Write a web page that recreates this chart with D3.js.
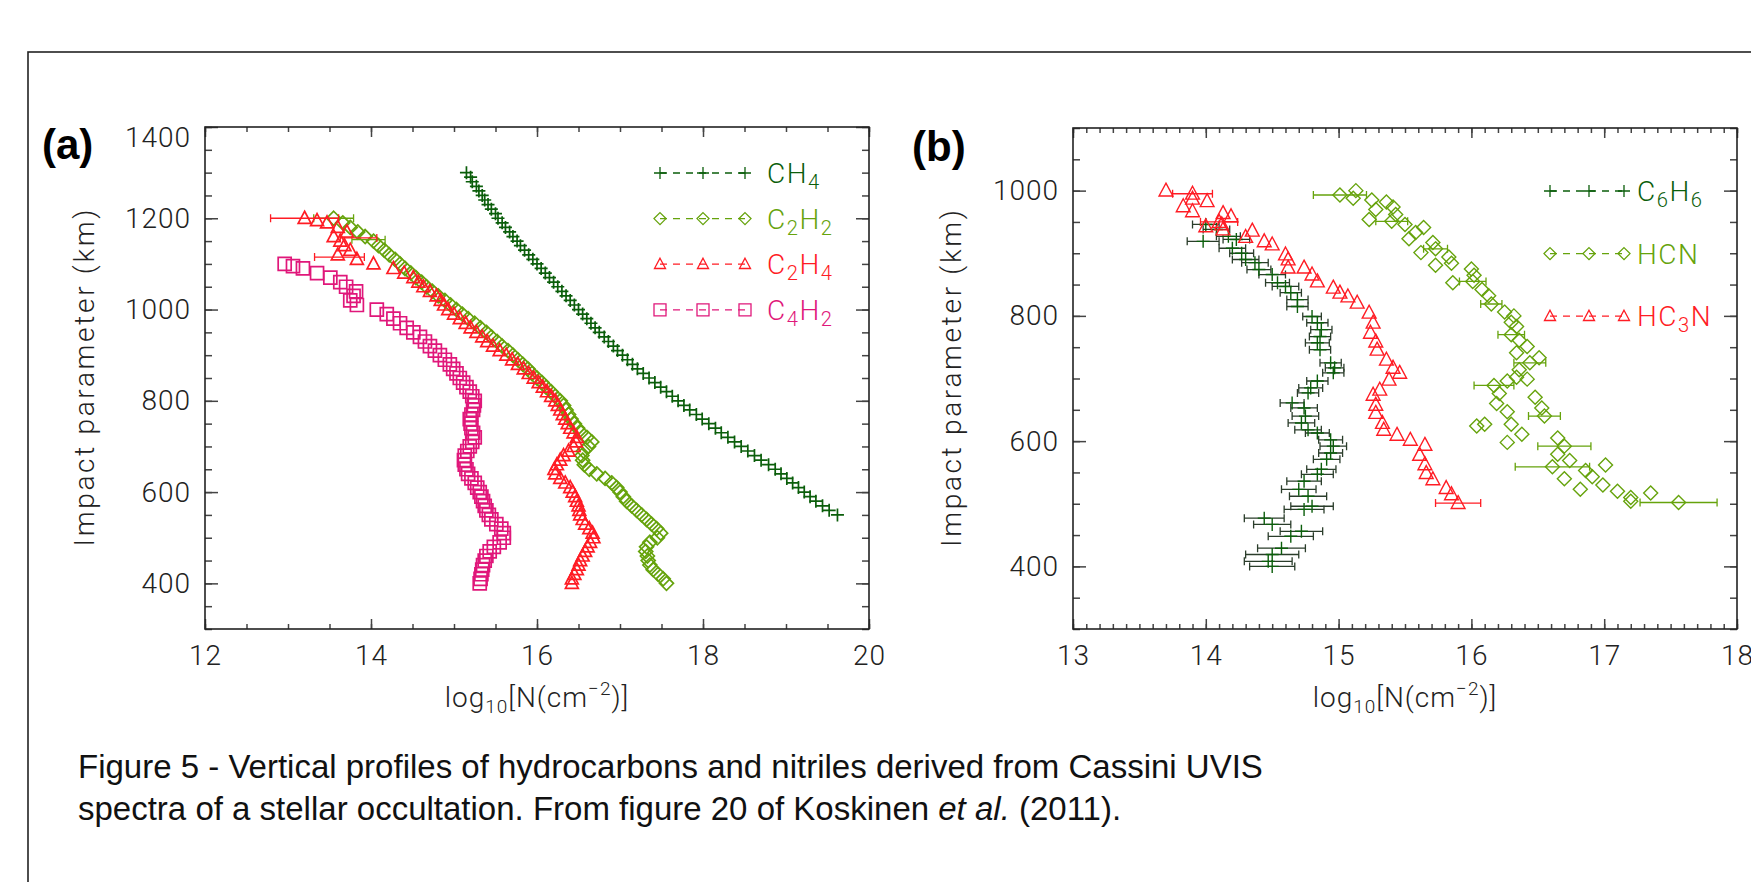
<!DOCTYPE html>
<html>
<head>
<meta charset="utf-8">
<script src="https://cdn.jsdelivr.net/npm/d3@7"></script>
<style>
  body { margin: 0; background: #fff; }
  svg { display: block; }
</style>
</head>
<body>
<svg id="fig" width="1751" height="882"></svg>
<script>
// ---- panel (a): [impact parameter (km), log10 N] ----
let ch4 = [[1300,15.15],[1290,15.2],[1280,15.22],[1270,15.27],[1260,15.3],[1250,15.34],[1240,15.37],[1230,15.41],
  [1220,15.45],[1210,15.5],[1200,15.53],[1190,15.58],[1180,15.62],[1170,15.67],[1160,15.71],[1150,15.76],[1140,15.8],
  [1130,15.85],[1120,15.9],[1110,15.95],[1100,16.0],[1090,16.05],[1080,16.1],[1070,16.15],[1060,16.2],[1050,16.25],
  [1040,16.3],[1030,16.35],[1020,16.4],[1010,16.45],[1000,16.5],[990,16.55],[980,16.6],[970,16.65],[960,16.7],
  [950,16.75],[940,16.81],[930,16.86],[920,16.92],[910,16.97],[900,17.03],[890,17.09],[880,17.15],[870,17.21],
  [860,17.28],[850,17.35],[840,17.42],[830,17.49],[820,17.56],[810,17.63],[800,17.7],[790,17.77],[780,17.84],
  [770,17.92],[760,17.99],[750,18.07],[740,18.15],[730,18.22],[720,18.3],[710,18.38],[700,18.46],[690,18.54],
  [680,18.62],[670,18.7],[660,18.79],[650,18.87],[640,18.94],[630,19.01],[620,19.08],[610,19.15],[600,19.22],
  [590,19.29],[580,19.36],[570,19.44],[560,19.52],[550,19.62]];

let c2h2 = [[1200,13.55],[1190,13.66],[1180,13.75],[1170,13.84],[1160,13.93],[1150,14.03],[1140,14.09],[1130,14.16],
  [1120,14.22],[1110,14.29],[1100,14.35],[1090,14.41],[1080,14.48],[1070,14.54],[1060,14.61],[1050,14.67],[1040,14.74],
  [1030,14.81],[1020,14.89],[1010,14.96],[1000,15.03],[990,15.1],[980,15.17],[970,15.25],[960,15.32],[950,15.39],
  [940,15.45],[930,15.52],[920,15.58],[910,15.65],[900,15.71],[890,15.77],[880,15.83],[870,15.89],[860,15.94],
  [850,16.0],[840,16.06],[830,16.11],[820,16.17],[810,16.22],[800,16.28],[790,16.32],[780,16.35],[770,16.38],
  [760,16.41],[750,16.45],[740,16.49],[730,16.53],[720,16.6],[710,16.66],[700,16.62],[690,16.56],[680,16.54],
  [670,16.55],[660,16.57],[650,16.63],[640,16.72],[630,16.82],[620,16.9],[610,16.96],[600,17.0],[590,17.04],
  [580,17.08],[570,17.14],[560,17.2],[550,17.26],[540,17.32],[530,17.38],[520,17.44],[510,17.49],[500,17.45],
  [490,17.36],[480,17.32],[470,17.31],[460,17.33],[450,17.34],[440,17.36],[430,17.4],[420,17.46],[410,17.52],[400,17.56]];

let c2h4 = [[1200,13.2],[1195,13.35],[1190,13.47],[1180,13.6],[1170,13.71],[1160,13.55],[1150,13.63],[1140,13.68],
  [1130,13.75],[1120,13.6],[1110,13.83],[1100,14.03],[1090,14.27],[1080,14.4],[1070,14.51],[1060,14.57],[1050,14.63],
  [1040,14.71],[1030,14.79],[1020,14.84],[1010,14.88],[1000,14.93],[990,15.0],[980,15.07],[970,15.14],[960,15.2],
  [950,15.27],[940,15.34],[930,15.4],[920,15.47],[910,15.55],[900,15.63],[890,15.7],[880,15.77],[870,15.84],
  [860,15.9],[850,15.96],[840,16.02],[830,16.07],[820,16.12],[810,16.17],[800,16.22],[790,16.25],[780,16.28],
  [770,16.31],[760,16.34],[750,16.37],[740,16.4],[730,16.44],[720,16.48],[710,16.47],[700,16.44],[690,16.38],
  [680,16.32],[670,16.28],[660,16.24],[650,16.21],[640,16.22],[630,16.28],[620,16.34],[610,16.4],[600,16.43],
  [590,16.46],[580,16.48],[570,16.5],[560,16.51],[550,16.52],[540,16.55],[530,16.58],[520,16.63],[510,16.67],
  [500,16.68],[490,16.64],[480,16.61],[470,16.58],[460,16.55],[450,16.52],[440,16.5],[430,16.48],[420,16.45],
  [410,16.42],[400,16.42]];

let c4h2 = [[1100,12.96],[1095,13.06],[1090,13.18],[1080,13.35],[1070,13.51],[1060,13.63],[1050,13.7],[1040,13.82],
  [1030,13.79],[1020,13.75],[1010,13.83],[1000,14.07],[990,14.19],[980,14.27],[970,14.35],[960,14.43],[950,14.51],
  [940,14.59],[930,14.65],[920,14.71],[910,14.77],[900,14.83],[890,14.89],[880,14.95],[870,14.99],[860,15.03],
  [850,15.07],[840,15.11],[830,15.15],[820,15.19],[810,15.22],[800,15.25],[790,15.24],[780,15.23],[770,15.21],
  [760,15.19],[750,15.2],[740,15.21],[730,15.23],[720,15.25],[710,15.22],[700,15.19],[690,15.16],[680,15.13],
  [670,15.12],[660,15.13],[650,15.15],[640,15.17],[630,15.21],[620,15.25],[610,15.28],[600,15.31],[590,15.33],
  [580,15.35],[570,15.37],[560,15.39],[550,15.42],[540,15.45],[530,15.51],[520,15.57],[510,15.6],[500,15.6],
  [490,15.55],[480,15.48],[470,15.43],[460,15.39],[450,15.37],[440,15.35],[430,15.34],[420,15.33],[410,15.32],[400,15.31]];

// error bars in (a): [km, log10 N, half width]
let c2h2Err = [[1200,13.55,0.24],[1153,13.97,0.2]];
let c2h4Err = [[1200,13.2,0.41],[1157,13.85,0.22],[1115,13.62,0.3]];

// ---- panel (b): [km, log10 N, half width of error bar (0 = none)] ----
let c6h6 = [[946,14.0,0.1],[938,14.08,0.1],[927,14.17,0.09],[922,14.23,0.1],[919,13.98,0.12],[908,14.2,0.1],
  [900,14.27,0.09],[890,14.3,0.1],[885,14.37,0.1],[874,14.4,0.09],[866,14.5,0.1],[853,14.54,0.09],[847,14.6,0.1],
  [837,14.64,0.08],[826,14.69,0.08],[815,14.69,0.08],[799,14.8,0.07],[789,14.84,0.08],[778,14.87,0.08],
  [767,14.86,0.08],[757,14.84,0.09],[746,14.86,0.08],[725,14.94,0.08],[717,14.97,0.07],[709,14.96,0.08],
  [696,14.84,0.08],[685,14.79,0.09],[677,14.77,0.08],[661,14.65,0.09],[653,14.74,0.1],[640,14.75,0.1],
  [629,14.72,0.1],[618,14.77,0.1],[613,14.84,0.09],[602,14.94,0.09],[592,14.96,0.1],[581,14.94,0.09],
  [571,14.91,0.1],[555,14.87,0.11],[547,14.84,0.12],[536,14.74,0.13],[523,14.7,0.13],[512,14.77,0.14],
  [496,14.8,0.16],[491,14.74,0.15],[477,14.44,0.15],[467,14.5,0.14],[456,14.72,0.16],[448,14.64,0.17],
  [429,14.57,0.18],[419,14.5,0.2],[408,14.47,0.18],[400,14.5,0.17]];

let hcn = [[993,15.01,0.2],[1000,15.13,0],[988,15.11,0],[985,15.25,0],[982,15.36,0],[970,15.28,0],[974,15.41,0],
  [962,15.43,0],[954,15.23,0],[951,15.4,0.12],[946,15.5,0],[941,15.64,0],[933,15.58,0],[923,15.53,0],[917,15.71,0],
  [907,15.73,0.09],[901,15.62,0],[894,15.83,0],[881,15.73,0],[884,15.85,0],[853,15.86,0],[875,16.0,0],[865,16.02,0],
  [855,16.01,0.1],[842,16.08,0],[832,16.13,0],[819,16.15,0.08],[806,16.25,0],[800,16.32,0],[790,16.3,0],
  [783,16.34,0],[770,16.3,0.1],[761,16.36,0],[751,16.42,0],[741,16.34,0],[733,16.51,0],[725,16.44,0.12],
  [714,16.36,0],[702,16.34,0],[689,16.17,0.15],[676,16.21,0],[696,16.27,0],[699,16.42,0],[670,16.48,0],
  [660,16.19,0],[653,16.53,0],[640,16.55,0.12],[647,16.27,0],[624,16.04,0],[627,16.1,0],[627,16.3,0],
  [611,16.38,0],[598,16.27,0],[605,16.65,0],[592,16.7,0.2],[579,16.65,0],[569,16.74,0],[562,17.01,0],
  [559,16.61,0.28],[540,16.7,0],[553,16.86,0],[543,16.91,0],[523,16.82,0],[530,16.99,0],[520,17.1,0],
  [510,17.2,0],[517,17.35,0],[504,17.2,0],[502,17.56,0.29]];

let hc3n = [[1000,13.7,0],[995,13.9,0.15],[987,13.9,0],[983,14.01,0],[975,13.83,0],[967,13.9,0],[964,14.13,0],
  [959,14.19,0],[950,14.1,0.14],[943,14.0,0],[946,14.12,0],[938,14.13,0],[936,14.35,0],[926,14.3,0],[919,14.44,0],
  [914,14.5,0],[898,14.6,0],[890,14.62,0],[877,14.62,0],[877,14.74,0],[866,14.8,0],[855,14.84,0],[845,14.96,0],
  [837,15.01,0],[831,15.07,0],[821,15.14,0],[805,15.23,0],[789,15.26,0],[773,15.24,0],[759,15.28,0],[746,15.29,0],
  [730,15.36,0],[717,15.41,0],[709,15.46,0],[698,15.38,0],[682,15.31,0],[674,15.26,0],[658,15.28,0],[645,15.28,0],
  [629,15.33,0],[618,15.34,0],[610,15.44,0],[602,15.54,0],[594,15.65,0],[578,15.61,0],[563,15.65,0],[549,15.66,0],
  [539,15.71,0],[525,15.81,0],[515,15.85,0],[501,15.9,0.17]];

// ---- ticks ----
let xTicksA = [12, 14, 16, 18, 20];
let yTicksA = [400, 600, 800, 1000, 1200, 1400];
let xTicksB = [13, 14, 15, 16, 17, 18];
let yTicksB = [400, 600, 800, 1000];

let dkGreen = '#0b5e0b';
let ltGreen = '#66a30c';
let red = '#ff1c24';
let pink = '#e0177a';

let tickFont = 'Roboto, "Liberation Sans", sans-serif';

const svg = d3.select('#fig');

// outer frame of the slide
svg.append('rect')
    .attr('x', 28).attr('y', 52)
    .attr('width', 1800).attr('height', 900)
    .attr('fill', 'none').attr('stroke', '#222').attr('stroke-width', 1.6);

const symbols = {
    plus: s => `M${-s},0H${s}M0,${-s}V${s}`,
    diamond: s => `M0,${-s}L${s},0L0,${s}L${-s},0Z`,
    triangle: s => `M0,${-s}L${s * 0.92},${s * 0.72}L${-s * 0.92},${s * 0.72}Z`,
    square: s => `M${-s},${-s}H${s}V${s}H${-s}Z`
};

// "C_2H_4" -> C, subscript 2, H, subscript 4
function chemLabel(sel, str, size) {
    let shift = 0;
    str.split(/(_\d)/).filter(d => d).forEach(part => {
        let sub = part[0] === '_';
        let target = sub ? 6 : 0;
        sel.append('tspan')
            .attr('dy', target - shift)
            .attr('font-size', sub ? size * 0.72 : size)
            .text(sub ? part.slice(1) : part);
        shift = target;
    });
}

function drawPanel(p) {
    let x = d3.scaleLinear().domain(p.xDomain).range([p.left, p.right]);
    let y = d3.scaleLinear().domain(p.yDomain).range([p.bottom, p.top]);
    let g = svg.append('g');

    let axisDefs = [
        [d3.axisBottom(x).tickValues(p.xMinor).tickSize(-5).tickFormat(''), `translate(0,${p.bottom})`],
        [d3.axisTop(x).tickValues(p.xMinor).tickSize(-5).tickFormat(''), `translate(0,${p.top})`],
        [d3.axisTop(x).tickValues(p.xTicks).tickSize(-10).tickFormat(''), `translate(0,${p.top})`],
        [d3.axisLeft(y).tickValues(p.yMinor).tickSize(-7).tickFormat(''), `translate(${p.left},0)`],
        [d3.axisRight(y).tickValues(p.yMinor).tickSize(-7).tickFormat(''), `translate(${p.right},0)`],
        [d3.axisRight(y).tickValues(p.yTicks).tickSize(-13).tickFormat(''), `translate(${p.right},0)`],
        [d3.axisBottom(x).tickValues(p.xTicks).tickSize(-10).tickPadding(16).tickFormat(d3.format('d')), `translate(0,${p.bottom})`],
        [d3.axisLeft(y).tickValues(p.yTicks).tickSize(-13).tickPadding(14).tickFormat(d3.format('d')), `translate(${p.left},0)`]
    ];
    axisDefs.forEach(a => {
        let ag = g.append('g').attr('transform', a[1]).call(a[0]);
        ag.select('.domain').remove();
        ag.selectAll('line').attr('stroke', '#444').attr('stroke-width', 1.5);
        ag.selectAll('text')
            .attr('fill', '#222')
            .style('font-family', tickFont)
            .style('font-weight', 300)
            .style('font-size', '28px')
            .style('letter-spacing', '1px');
    });
    // IDL keeps the top label inside the frame
    g.selectAll('.tick text').filter(d => d === p.yDomain[1]).attr('dy', '0.68em');

    g.append('rect')
        .attr('x', p.left).attr('y', p.top)
        .attr('width', p.right - p.left).attr('height', p.bottom - p.top)
        .attr('fill', 'none').attr('stroke', '#222').attr('stroke-width', 1.6);

    p.series.forEach(s => {
        let sg = g.append('g')
            .attr('stroke', s.color).attr('fill', 'none').attr('stroke-width', p.markStroke);
        sg.selectAll('path.err')
            .data(s.errors.filter(d => d[2] > 0))
            .enter().append('path')
            .attr('stroke', s.errColor || s.color)
            .attr('stroke-width', 1.3)
            .attr('d', d => {
                let x0 = x(d[1] - d[2]), x1 = x(d[1] + d[2]), yy = y(d[0]);
                return `M${x0},${yy}H${x1}M${x0},${yy - 4}V${yy + 4}M${x1},${yy - 4}V${yy + 4}`;
            });
        sg.selectAll('path.pt')
            .data(s.points)
            .enter().append('path')
            .attr('transform', d => `translate(${x(d[1])},${y(d[0])})`)
            .attr('d', symbols[s.symbol](s.size));
    });

    // legend
    p.series.forEach((s, i) => {
        let ly = p.legend.y0 + i * p.legend.step;
        let lg = g.append('g').attr('stroke', s.color).attr('fill', 'none').attr('stroke-width', 1.3);
        lg.append('line')
            .attr('x1', p.legend.xs[0]).attr('x2', p.legend.xs[2])
            .attr('y1', ly).attr('y2', ly)
            .attr('stroke-dasharray', '7,6');
        p.legend.xs.forEach(lx => {
            lg.append('path')
                .attr('transform', `translate(${lx},${ly})`)
                .attr('d', symbols[s.symbol](6));
        });
        let t = g.append('text')
            .attr('x', p.legend.textX).attr('y', ly + 10)
            .attr('fill', s.color)
            .style('font-family', tickFont).style('font-weight', 300)
            .style('letter-spacing', '1.5px');
        chemLabel(t, s.label, 28);
    });

    // axis titles
    let cx = (p.left + p.right) / 2, cy = (p.top + p.bottom) / 2;
    g.append('text')
        .attr('transform', `translate(${p.yTitleX},${cy}) rotate(-90)`)
        .attr('text-anchor', 'middle')
        .attr('textLength', 337).attr('lengthAdjust', 'spacing')
        .attr('fill', '#222')
        .style('font-family', tickFont).style('font-weight', 300).style('font-size', '28px')
        .text('Impact parameter (km)');

    let xt = g.append('text')
        .attr('x', cx).attr('y', 707)
        .attr('text-anchor', 'middle')
        .attr('fill', '#222')
        .style('font-family', tickFont).style('font-weight', 300).style('font-size', '28px')
        .style('letter-spacing', '1px');
    xt.append('tspan').text('log');
    xt.append('tspan').attr('font-size', 19).attr('dy', 6).text('10');
    xt.append('tspan').attr('dy', -6).text('[N(cm');
    xt.append('tspan').attr('font-size', 19).attr('dy', -12).text('\u22122');
    xt.append('tspan').attr('dy', 12).text(')]');

    g.append('text')
        .attr('x', p.tagX).attr('y', p.tagY)
        .attr('fill', '#000')
        .style('font-family', '"Liberation Sans", Arial, sans-serif')
        .style('font-weight', 'bold').style('font-size', '42px')
        .text(p.tag);
}

drawPanel({
    left: 205, right: 869, top: 127, bottom: 629,
    xDomain: [12, 20], yDomain: [300, 1400],
    xTicks: xTicksA, yTicks: yTicksA,
    xMinor: d3.range(12, 20.01, 0.5), yMinor: d3.range(300, 1401, 50),
    yTitleX: 94, tag: '(a)', tagX: 42, tagY: 159, markStroke: 1.7,
    legend: { xs: [660, 703, 745], textX: 767, y0: 173, step: 45.6 },
    series: [
        { label: 'CH_4', points: ch4, errors: [], symbol: 'plus', size: 6.5, color: dkGreen },
        { label: 'C_2H_2', points: c2h2, errors: c2h2Err, symbol: 'diamond', size: 7, color: ltGreen },
        { label: 'C_2H_4', points: c2h4, errors: c2h4Err, symbol: 'triangle', size: 7, color: red },
        { label: 'C_4H_2', points: c4h2, errors: [], symbol: 'square', size: 6.5, color: pink }
    ]
});

drawPanel({
    left: 1073, right: 1737, top: 128, bottom: 629,
    xDomain: [13, 18], yDomain: [300, 1100],
    xTicks: xTicksB, yTicks: yTicksB,
    xMinor: d3.range(13, 18.001, 0.1), yMinor: d3.range(300, 1101, 50),
    yTitleX: 961, tag: '(b)', tagX: 912, tagY: 161, markStroke: 1.4,
    legend: { xs: [1550, 1589, 1624], textX: 1637, y0: 191, step: 62.6 },
    series: [
        { label: 'C_6H_6', points: c6h6, errors: c6h6, symbol: 'plus', size: 6.5, color: dkGreen, errColor: '#2b3d2b' },
        { label: 'HCN', points: hcn, errors: hcn, symbol: 'diamond', size: 7, color: ltGreen },
        { label: 'HC_3N', points: hc3n, errors: hc3n, symbol: 'triangle', size: 7.5, color: red }
    ]
});

// caption
let cap = svg.append('g')
    .style('font-family', '"Liberation Sans", Arial, sans-serif')
    .style('font-size', '33px')
    .attr('fill', '#111');
cap.append('text').attr('x', 78).attr('y', 778)
    .text('Figure 5 - Vertical profiles of hydrocarbons and nitriles derived from Cassini UVIS');
let line2 = cap.append('text').attr('x', 78).attr('y', 820);
line2.append('tspan').text('spectra of a stellar occultation. From figure 20 of Koskinen ');
line2.append('tspan').style('font-style', 'italic').text('et al.');
line2.append('tspan').text(' (2011).');
</script>
</body>
</html>
